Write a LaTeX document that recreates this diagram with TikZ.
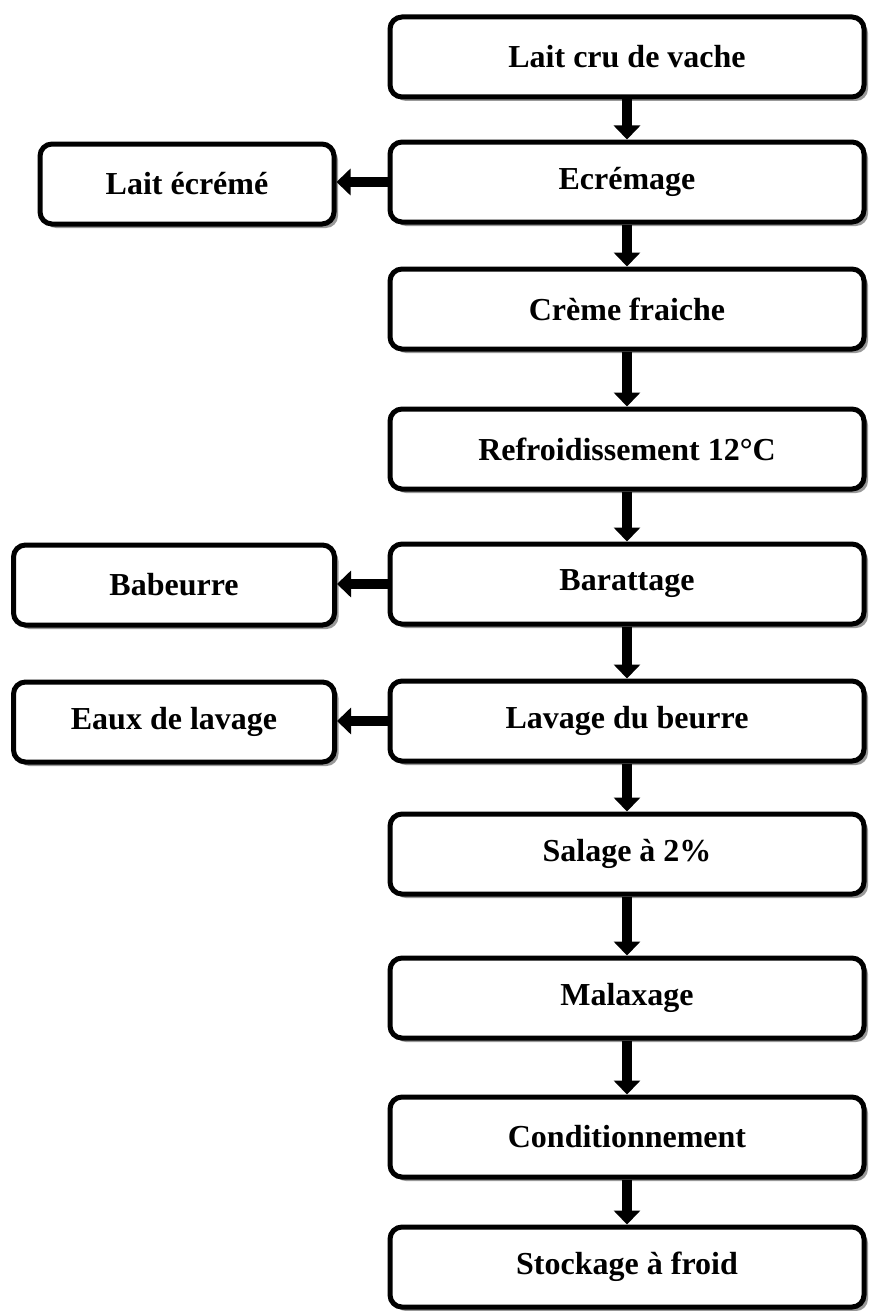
\documentclass[tikz,border=0pt]{standalone}
\usepackage{fontspec}
\setmainfont{Liberation Serif}
\usetikzlibrary{arrows.meta,shadows}
\begin{document}
\begin{tikzpicture}[x=1pt,y=-1pt,
    etape/.style={draw,line width=5pt,rounded corners=12pt,fill=white,
        minimum width=474pt,minimum height=80pt,
        font=\fontsize{32}{36}\selectfont\bfseries,
        drop shadow={shadow xshift=4pt,shadow yshift=-4pt,fill=black!40,opacity=1}},
    rejet/.style={etape,minimum width=321pt},
    fleche/.style={line width=10pt,-{Triangle[width=26pt,length=14pt]}}]
    \useasboundingbox (0,0) rectangle (870,1311);
    % etapes principales
    \node[etape](lait) at (627,57){Lait cru de vache};
    \node[etape](ecremage) at (627,182){Ecrémage};
    \node[etape](creme) at (627,309){Crème fraiche};
    \node[etape](refroid) at (627,449){Refroidissement 12°C};
    \node[etape](baratt) at (627,584){Barattage};
    \node[etape](lavage) at (627,721){Lavage du beurre};
    \node[etape](salage) at (627,854){Salage à 2\%};
    \node[etape](malax) at (627,998){Malaxage};
    \node[etape](condit) at (627,1137){Conditionnement};
    \node[etape](stock) at (627,1267){Stockage à froid};
    % sous-produits
    \node[rejet,minimum width=294pt](ecreme) at (187,184){Lait écrémé};
    \node[rejet](babeurre) at (174,585){Babeurre};
    \node[rejet](eaux) at (174,722){Eaux de lavage};
    \foreach \a/\b in {lait/ecremage,ecremage/creme,creme/refroid,refroid/baratt,
        baratt/lavage,lavage/salage,salage/malax,malax/condit,condit/stock}
        \draw[fleche] (\a.south) -- (\b.north);
    \foreach \a/\b in {ecremage/ecreme,baratt/babeurre,lavage/eaux}
        \draw[fleche] (\a.west) -- (\a.west -| \b.east);
\end{tikzpicture}
\end{document}
